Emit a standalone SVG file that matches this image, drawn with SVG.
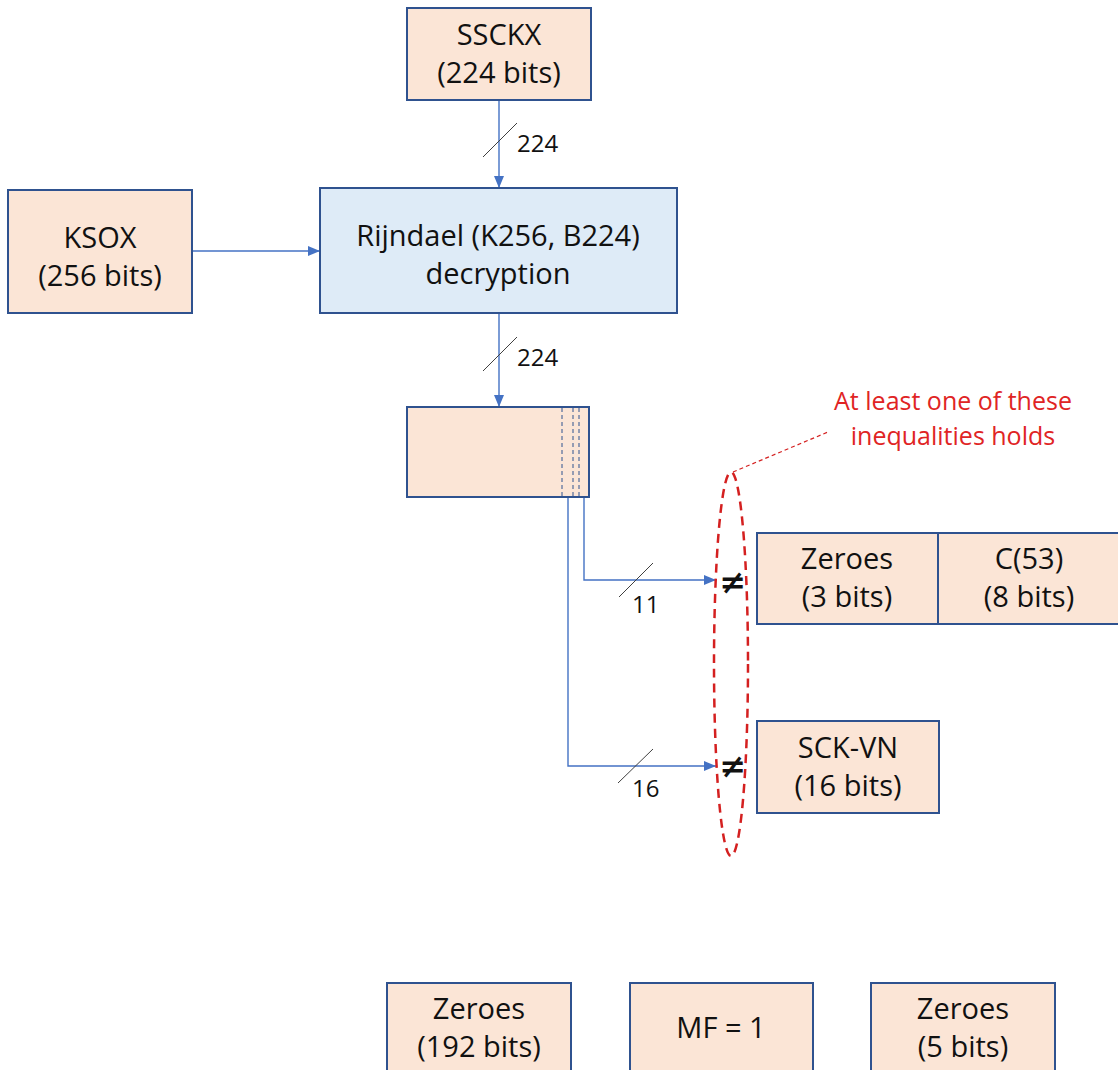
<svg xmlns="http://www.w3.org/2000/svg" width="1118" height="1070" viewBox="0 0 1118 1070">
<defs>
<marker id="ah" viewBox="0 0 12 10" refX="12" refY="5" markerWidth="12" markerHeight="10" markerUnits="userSpaceOnUse" orient="auto">
<path d="M0,0 L12,5 L0,10 Z" fill="#4472C4"/>
</marker>
</defs>
<style>
.peach{fill:#FBE5D6;stroke:#2F528F;stroke-width:2}
.blue{fill:#DEEBF7;stroke:#2F528F;stroke-width:2}
.t{font-family:"Open Sans","Noto Sans",sans-serif;font-size:29px;fill:#111;text-anchor:middle}
.lbl{font-family:"Open Sans","Noto Sans",sans-serif;font-size:24px;fill:#111}
.ne{font-family:"DejaVu Sans",sans-serif;font-size:32px;font-weight:bold;fill:#111;text-anchor:middle}
.red{font-family:"Open Sans","Noto Sans",sans-serif;font-size:25px;fill:#E02424;text-anchor:middle}
.conn{fill:none;stroke:#4472C4;stroke-width:1.4}
.slash{stroke:#404040;stroke-width:1}
.dv{stroke:#2F528F;stroke-width:1;stroke-dasharray:4 3}
</style>
<g id="connectors">
<line class="conn" x1="499" y1="100" x2="499" y2="188" marker-end="url(#ah)"/>
<line class="conn" x1="192" y1="251" x2="320" y2="251" marker-end="url(#ah)"/>
<line class="conn" x1="499" y1="313" x2="499" y2="407" marker-end="url(#ah)"/>
<polyline class="conn" points="584,497 584,580 716,580" marker-end="url(#ah)"/>
<polyline class="conn" points="568,497 568,766 716,766" marker-end="url(#ah)"/>
<line class="slash" x1="483" y1="157" x2="517" y2="123"/>
<text class="lbl" x="517" y="152">224</text>
<line class="slash" x1="483" y1="371" x2="517" y2="337"/>
<text class="lbl" x="517" y="366">224</text>
<line class="slash" x1="619" y1="597" x2="653" y2="563"/>
<text class="lbl" x="632" y="613">11</text>
<line class="slash" x1="618" y1="783" x2="653" y2="749"/>
<text class="lbl" x="632" y="797">16</text>
</g>
<g id="sscKX">
<rect class="peach" x="407" y="8" width="184" height="92"/>
<text class="t" x="499" y="45">SSCKX</text>
<text class="t" x="499" y="83">(224 bits)</text>
</g>
<g id="ksox">
<rect class="peach" x="8" y="190" width="184" height="123"/>
<text class="t" x="100" y="248">KSOX</text>
<text class="t" x="100" y="286">(256 bits)</text>
</g>
<g id="rijndael">
<rect class="blue" x="320" y="188" width="357" height="125"/>
<text class="t" x="498" y="246">Rijndael (K256, B224)</text>
<text class="t" x="498" y="284">decryption</text>
</g>
<g id="block">
<rect class="peach" x="407" y="407" width="182" height="90"/>
<line class="dv" x1="562" y1="408" x2="562" y2="496"/>
<line class="dv" x1="573" y1="408" x2="573" y2="496"/>
<line class="dv" x1="579" y1="408" x2="579" y2="496"/>
</g>
<g id="ne1"><text class="ne" x="733" y="593">≠</text></g>
<g id="ne2"><text class="ne" x="733" y="777">≠</text></g>
<g id="zeroes-c53">
<rect class="peach" x="757" y="533" width="370" height="91"/>
<line x1="938" y1="533" x2="938" y2="624" stroke="#2F528F" stroke-width="2"/>
<text class="t" x="847" y="569">Zeroes</text>
<text class="t" x="847" y="607">(3 bits)</text>
<text class="t" x="1029" y="569">C(53)</text>
<text class="t" x="1029" y="607">(8 bits)</text>
</g>
<g id="sckvn">
<rect class="peach" x="757" y="721" width="182" height="92"/>
<text class="t" x="848" y="758">SCK-VN</text>
<text class="t" x="848" y="796">(16 bits)</text>
</g>
<g id="callout">
<ellipse cx="731" cy="664" rx="17" ry="192" fill="none" stroke="#D42020" stroke-width="2.5" stroke-dasharray="9 6"/>
<line x1="733" y1="472" x2="828" y2="432" stroke="#D42020" stroke-width="1.2" stroke-dasharray="4 3"/>
<text class="red" x="953" y="410">At least one of these</text>
<text class="red" x="953" y="445">inequalities holds</text>
</g>
<g id="zeroes192">
<rect class="peach" x="387" y="983" width="184" height="92"/>
<text class="t" x="479" y="1019">Zeroes</text>
<text class="t" x="479" y="1057">(192 bits)</text>
</g>
<g id="mf">
<rect class="peach" x="630" y="983" width="183" height="92"/>
<text class="t" x="721" y="1038">MF = 1</text>
</g>
<g id="zeroes5">
<rect class="peach" x="871" y="983" width="184" height="92"/>
<text class="t" x="963" y="1019">Zeroes</text>
<text class="t" x="963" y="1057">(5 bits)</text>
</g>
</svg>
